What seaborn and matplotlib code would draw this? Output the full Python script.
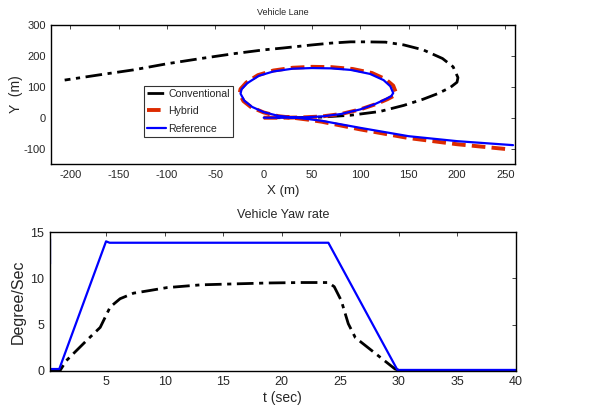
import matplotlib
matplotlib.use("Agg")
import matplotlib.pyplot as plt
import seaborn as sns
import pandas as pd

# ---------------- data: vehicle lane (X, Y in m) ----------------
ref_x = [0, 20, 40, 60, 80, 100, 115, 126, 132, 134, 131, 124, 110, 90, 70, 50, 30, 10,
         -5, -17, -23, -24, -20, -12, 0, 15, 30, 45, 60, 100, 150, 200, 258]
ref_y = [0, 0, 1, 4, 12, 27, 44, 60, 70, 80, 102, 122, 142, 155, 160, 161, 159, 150,
         136, 112, 92, 78, 55, 35, 18, 6, 1, -4, -10, -33, -60, -76, -89]

hyb_x = [0, 20, 40, 60, 80, 100, 116, 128, 134, 137, 134, 126, 112, 92, 70, 50, 30, 10,
         -6, -18, -24, -25, -21, -13, 0, 15, 30, 45, 60, 100, 150, 200, 252]
hyb_y = [0, 0, 1, 4, 12, 27, 44, 60, 70, 80, 104, 125, 145, 158, 164, 165, 162, 153,
         138, 114, 93, 78, 54, 34, 17, 5, 0, -6, -13, -38, -66, -86, -102]

conv_x = [0, 30, 60, 90, 120, 145, 165, 180, 193, 200, 201, 196, 185, 165, 145, 126, 105,
          90, 70, 50, 20, 0, -30, -65, -100, -135, -170, -206]
conv_y = [0, 0, 2, 8, 20, 40, 60, 78, 98, 115, 130, 165, 192, 220, 236, 245, 246,
          246, 242, 236, 226, 220, 208, 192, 175, 155, 139, 122]

# ---------------- data: yaw rate (deg/s) ----------------
t_ref = [0.2, 1.0, 5.0, 5.3, 24.0, 29.9, 40.0]
yaw_ref = [0.2, 0.2, 14.0, 13.85, 13.85, 0.1, 0.1]
t_ref_spike = [0.25, 0.25]
yaw_ref_spike = [14.3, 11.5]

t_conv = [0.2, 1.05, 1.6, 3.35, 4.5, 5.35, 6.2, 7.35, 8.8, 10.2, 13.1, 15.9, 18.8, 21.7,
          24.0, 24.5, 25.1, 25.7, 26.3, 27.4, 28.8, 29.7, 30.2, 40.0]
yaw_conv = [0.0, 0.0, 1.1, 3.3, 4.7, 6.9, 7.8, 8.4, 8.7, 9.0, 9.3, 9.4, 9.5, 9.55,
            9.55, 9.1, 7.6, 5.1, 3.6, 2.5, 1.1, 0.2, 0.0, 0.0]

series_names = ["Conventional", "Hybrid", "Reference"]

# ---------------- style ----------------
sns.set_style("white")
plt.rcParams["font.family"] = ["Liberation Sans", "DejaVu Sans"]
plt.rcParams["axes.unicode_minus"] = False
plt.rcParams["xtick.direction"] = "in"
plt.rcParams["ytick.direction"] = "in"

BLACK = "#000000"
RED = "#dd2a00"
BLUE = "#0000ff"
DASHDOT = [6, 2, 1.5, 2]
DASHED = [3.5, 1.6]

fig = plt.figure(figsize=(6.16, 4.13), dpi=100)
ax1 = fig.add_axes([0.083, 0.603, 0.753, 0.336])
ax2 = fig.add_axes([0.081, 0.102, 0.756, 0.336])

def path_df(x, y):
    return pd.DataFrame({"x": x, "y": y})

# top plot
sns.lineplot(data=path_df(conv_x, conv_y), x="x", y="y", sort=False, estimator=None,
             ax=ax1, color=BLACK, lw=2.0, legend=False)
l_conv = ax1.lines[-1]
l_conv.set_dashes(DASHDOT)
sns.lineplot(data=path_df(hyb_x, hyb_y), x="x", y="y", sort=False, estimator=None,
             ax=ax1, color=RED, lw=2.8, legend=False)
l_hyb = ax1.lines[-1]
l_hyb.set_dashes(DASHED)
sns.lineplot(data=path_df(ref_x, ref_y), x="x", y="y", sort=False, estimator=None,
             ax=ax1, color=BLUE, lw=1.6, legend=False)
l_ref = ax1.lines[-1]

ax1.set_xlim(-220, 260)
ax1.set_ylim(-150, 300)
ax1.set_xticks(range(-200, 251, 50))
ax1.set_yticks([-100, 0, 100, 200, 300])
ax1.set_title("Vehicle Lane", fontsize=6.5, pad=7)
ax1.set_xlabel("X (m)", fontsize=9.5, labelpad=4)
ax1.set_ylabel("Y  (m)", fontsize=10, labelpad=0)
leg = ax1.legend([l_conv, l_hyb, l_ref], series_names,
                 loc="upper left", bbox_to_anchor=(0.2, 0.565), fontsize=7.6,
                 frameon=True, fancybox=False, edgecolor="black", handlelength=1.8,
                 handletextpad=0.2, borderpad=0.3, labelspacing=0.7, borderaxespad=0)
leg.get_frame().set_linewidth(0.8)

# bottom plot
sns.lineplot(x=t_conv, y=yaw_conv, ax=ax2, color=BLACK, lw=2.0, sort=False, estimator=None)
ax2.lines[-1].set_dashes(DASHDOT)
sns.lineplot(x=t_ref, y=yaw_ref, ax=ax2, color=BLUE, lw=1.6, sort=False, estimator=None)
sns.lineplot(x=t_ref_spike, y=yaw_ref_spike, ax=ax2, color=BLUE, lw=1.6, sort=False,
             estimator=None)
ax2.set_xlim(0.2, 40)
ax2.set_ylim(0, 15)
ax2.set_xticks(range(5, 41, 5))
ax2.set_yticks([0, 5, 10, 15])
ax2.set_title("Vehicle Yaw rate", fontsize=9, pad=10)
ax2.set_xlabel("t (sec)", fontsize=10, labelpad=2)
ax2.set_ylabel("Degree/Sec", fontsize=11.5, labelpad=3)

for ax in (ax1, ax2):
    ax.tick_params(length=3, width=0.6, top=True, right=True)
    for s in ax.spines.values():
        s.set_visible(True)
        s.set_color("black")
        s.set_linewidth(1.0)
    ax.set_facecolor("white")
ax1.tick_params(labelsize=8, pad=4)
ax2.tick_params(labelsize=9, pad=4)

fig.savefig("out.png", dpi=100, facecolor="white")
